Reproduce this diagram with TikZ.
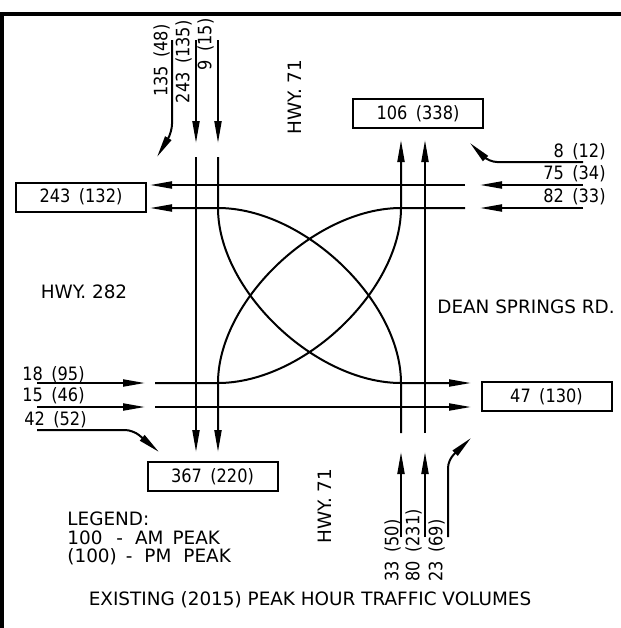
\documentclass[tikz,border=0pt]{standalone}
\usepackage{fontspec}
\setmainfont{DejaVu Sans}
\newfontfamily\cadnum[FakeStretch=0.88]{DejaVu Sans}
\usetikzlibrary{arrows.meta}
\newcommand\volsp{\hspace{4.2pt}}
\begin{document}
\begin{tikzpicture}[x=0.5pt,y=-0.5pt,
  every node/.style={font=\cadnum\fontsize{9.2}{11}\selectfont, inner sep=0pt},
  wordfont/.style={font=\rmfamily\fontsize{9.2}{11}\selectfont},
  ln/.style={line width=1pt},
  arr/.style={ln, -{Triangle[length=11pt,width=3.5pt]}},
  vbox/.style={draw, line width=1pt, minimum width=65pt, minimum height=14.5pt},
  vlab/.style={rotate=90},
]
\useasboundingbox (0,0) rectangle (621,628);
% frame
\draw[line width=1.8pt] (2,628) -- (2,14) -- (621,14);

% boxes
\node[vbox] (b106) at (418,113.5) {106\volsp(338)};
\node[vbox] (b243) at (81,197) {243\volsp(132)};
\node[vbox] (b47)  at (546.5,396.5) {47\volsp(130)};
\node[vbox] (b367) at (212.5,476.5) {367\volsp(220)};

% volume labels
\node[vlab, anchor=east] (l135) at (161.5,24) {135\volsp(48)};
\node[vlab, anchor=east] (l243) at (183.5,20) {243\volsp(135)};
\node[vlab, anchor=east] (l9)   at (205.5,18) {9\volsp(15)};
\node[anchor=east] (l8)  at (606,151.5) {8\volsp(12)};
\node[anchor=east] (l75) at (606,173.5) {75\volsp(34)};
\node[anchor=east] (l82) at (606,196.5) {82\volsp(33)};
\node[anchor=west] (l18) at (22,375) {18\volsp(95)};
\node[anchor=west] (l15) at (22,395.5) {15\volsp(46)};
\node[anchor=west] (l42) at (24,420) {42\volsp(52)};
\node[vlab, anchor=west] (l33) at (392.5,582) {33\volsp(50)};
\node[vlab, anchor=west] (l80) at (413.5,582) {80\volsp(231)};
\node[vlab, anchor=west] (l23) at (436.5,582) {23\volsp(69)};
% road names and legend
\node[vlab, wordfont] (hwyn) at (295,97) {HWY. 71};
\node[vlab, wordfont] (hwys) at (325,506) {HWY. 71};
\node[wordfont] (hwyw) at (84,291.5) {HWY. 282};
\node[wordfont] (dean) at (526,306.5) {DEAN SPRINGS RD.};
\node[wordfont, anchor=west] (leg1) at (67,518.5) {LEGEND:};
\node[wordfont, anchor=west] (leg2) at (67,537.5) {100\hspace{7pt}-\hspace{6pt}AM\hspace{4.5pt}PEAK};
\node[wordfont, anchor=west] (leg3) at (67,556.5) {(100)\hspace{4.5pt}-\hspace{6pt}PM\hspace{6pt}PEAK};
\node[wordfont] (title) at (310,600) {EXISTING (2015) PEAK HOUR TRAFFIC VOLUMES};

% intersection corners
\coordinate (nw) at (218,208);
\coordinate (ne) at (401,208);
\coordinate (sw) at (218,383);
\coordinate (se) at (401,383);

% southbound
\coordinate (sr0) at (172,40);  \coordinate (sr1) at (172,132); \coordinate (sr2) at (157,157);
\coordinate (st0) at (196,40);  \coordinate (st1) at (196,143);
\coordinate (st2) at (196,157); \coordinate (st3) at (196,452);
\coordinate (sl0) at (218,40);  \coordinate (sl1) at (218,143);
\coordinate (sl2) at (218,157); \coordinate (sl3) at (218,452);
% westbound
\coordinate (wr0) at (583,162); \coordinate (wr1) at (489,162); \coordinate (wr2) at (470,143);
\coordinate (wt0) at (583,185); \coordinate (wt1) at (480,185);
\coordinate (wt2) at (465,185); \coordinate (wt3) at (150,185);
\coordinate (wl0) at (583,208); \coordinate (wl1) at (480,208);
\coordinate (wl2) at (465,208); \coordinate (wl3) at (150,208);
% eastbound
\coordinate (el0) at (37,383);  \coordinate (el1) at (145,383);
\coordinate (el2) at (155,383); \coordinate (el3) at (471,383);
\coordinate (et0) at (37,407);  \coordinate (et1) at (145,407);
\coordinate (et2) at (155,407); \coordinate (et3) at (471,407);
\coordinate (er0) at (37,430);  \coordinate (er1) at (133,430); \coordinate (er2) at (159,452);
% northbound
\coordinate (nl0) at (401,537); \coordinate (nl1) at (401,452);
\coordinate (nl2) at (401,433); \coordinate (nl3) at (401,140);
\coordinate (nt0) at (425,537); \coordinate (nt1) at (425,452);
\coordinate (nt2) at (425,433); \coordinate (nt3) at (425,140);
\coordinate (nr0) at (448,537); \coordinate (nr1) at (448,460); \coordinate (nr2) at (471,438);

% southbound movements
\draw[arr, rounded corners=4pt] (sr0) -- (sr1) -- (sr2);
\draw[arr] (st0) -- (st1);
\draw[arr] (st2) -- (st3);
\draw[arr] (sl0) -- (sl1);
\draw[arr] (sl2) -- (nw) .. controls +(0,82) and +(-86,0) .. (se) -- (el3);
% westbound movements
\draw[arr, rounded corners=4pt] (wr0) -- (wr1) -- (wr2);
\draw[arr] (wt0) -- (wt1);
\draw[arr] (wt2) -- (wt3);
\draw[arr] (wl0) -- (wl1);
\draw[arr] (wl2) -- (ne) .. controls +(-86,0) and +(0,-82) .. (sw) -- (sl3);
% eastbound movements
\draw[arr] (el0) -- (el1);
\draw[arr] (el2) -- (sw) .. controls +(86,0) and +(0,82) .. (ne) -- (nl3);
\draw[arr] (et0) -- (et1);
\draw[arr] (et2) -- (et3);
\draw[arr, rounded corners=4pt] (er0) -- (er1) -- (er2);
% northbound movements
\draw[arr] (nl0) -- (nl1);
\draw[arr] (nl2) -- (se) .. controls +(0,-82) and +(86,0) .. (nw) -- (wl3);
\draw[arr] (nt0) -- (nt1);
\draw[arr] (nt2) -- (nt3);
\draw[arr, rounded corners=4pt] (nr0) -- (nr1) -- (nr2);
\end{tikzpicture}
\end{document}
